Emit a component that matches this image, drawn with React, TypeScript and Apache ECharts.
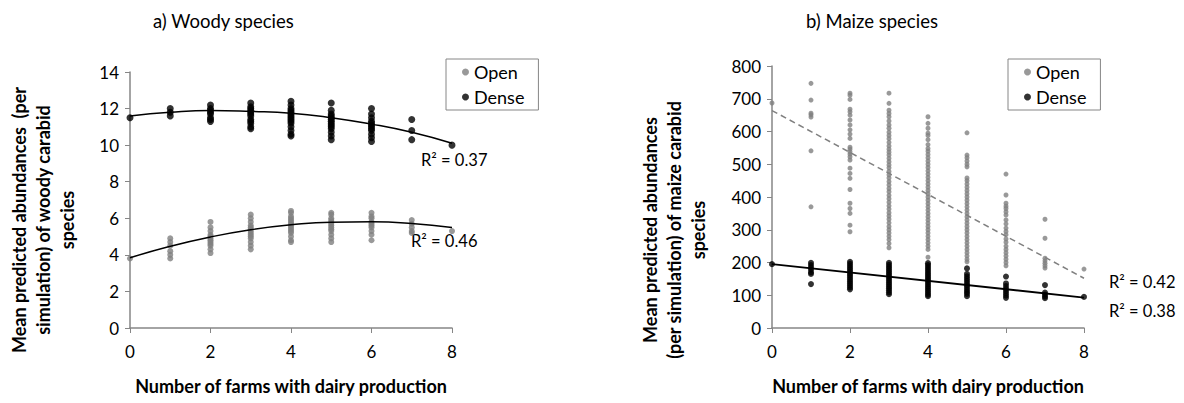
import React, { useEffect, useRef } from "react";
import * as echarts from "echarts";

// x positions: number of farms with dairy production (0..8)
const farms = [0, 1, 2, 3, 4, 5, 6, 7, 8];

// a) Woody species — Dense (black)
const woodyDense: number[][] = [
  [11.5],
  [12.0, 11.8, 11.6],
  [12.2, 12.0, 11.9, 11.8, 11.7, 11.5, 11.4, 11.3],
  [12.3, 12.1, 12.0, 11.9, 11.8, 11.7, 11.6, 11.4, 11.3, 11.2, 11.0, 10.9],
  [12.4, 12.2, 12.0, 11.9, 11.8, 11.7, 11.6, 11.5, 11.4, 11.3, 11.2, 11.0, 10.8, 10.6, 10.5],
  [12.3, 11.9, 11.7, 11.6, 11.5, 11.4, 11.3, 11.2, 11.1, 11.0, 10.9, 10.7, 10.5, 10.3],
  [12.0, 11.7, 11.5, 11.3, 11.2, 11.1, 11.0, 10.9, 10.8, 10.6, 10.4, 10.2],
  [11.4, 10.8, 10.3],
  [10.0],
];
// a) Woody species — Open (grey)
const woodyOpen: number[][] = [
  [3.8],
  [4.9, 4.7, 4.5, 4.2, 4.0, 3.8],
  [5.8, 5.5, 5.3, 5.1, 5.0, 4.9, 4.8, 4.7, 4.6, 4.5, 4.3, 4.1],
  [6.2, 6.0, 5.8, 5.6, 5.5, 5.4, 5.3, 5.2, 5.1, 5.0, 4.9, 4.7, 4.5, 4.3],
  [6.4, 6.3, 6.1, 6.0, 5.9, 5.8, 5.7, 5.6, 5.5, 5.4, 5.3, 5.2, 5.0, 4.8, 4.7],
  [6.3, 6.2, 6.0, 5.9, 5.8, 5.7, 5.6, 5.5, 5.4, 5.3, 5.1, 4.9, 4.7],
  [6.3, 6.1, 6.0, 5.8, 5.7, 5.6, 5.5, 5.3, 5.1, 4.8],
  [5.9, 5.7, 5.5, 5.3, 5.2],
  [5.3],
];
// fitted curves
const woodyDenseTrend = [11.6, 11.8, 11.9, 11.85, 11.75, 11.5, 11.15, 10.7, 10.1];
const woodyOpenTrend = [3.84, 4.47, 4.98, 5.37, 5.64, 5.79, 5.81, 5.72, 5.5];

// b) Maize species — Open (grey)
const maizeOpen: number[][] = [
  [687],
  [747, 696, 656, 651, 644, 541, 370],
  [717, 711, 698, 668, 660, 650, 635, 620, 605, 592, 579, 552, 546, 538, 531, 523, 513, 488, 472, 457, 423, 381, 365, 350, 314, 294],
  [717, 686, 665, 655, 645, 632, 620, 610, 598, 588, 578, 567, 556, 546, 537, 528, 518, 508, 498, 489, 478, 468, 458, 447, 437, 426, 416, 405, 395, 384, 373, 363, 352, 342, 332, 321, 310, 300, 290, 280, 270, 258, 245],
  [645, 625, 610, 595, 588, 575, 560, 548, 540, 530, 520, 510, 500, 490, 480, 470, 460, 450, 440, 430, 420, 410, 400, 390, 380, 370, 360, 350, 340, 330, 320, 310, 300, 290, 280, 270, 260, 250, 240, 216],
  [596, 528, 520, 510, 500, 492, 458, 450, 440, 430, 420, 410, 400, 390, 380, 370, 360, 350, 340, 330, 320, 310, 300, 290, 280, 270, 260, 250, 240, 230, 220, 210, 202],
  [470, 406, 381, 372, 365, 355, 345, 330, 318, 305, 295, 285, 272, 262, 250, 240, 230, 220, 210, 200, 190],
  [332, 274, 213, 205, 198, 190, 183],
  [180],
];
// b) Maize species — Dense (black)
const maizeDense: number[][] = [
  [195],
  [199, 192, 185, 178, 170, 165, 134],
  [202, 196, 190, 184, 178, 172, 166, 160, 154, 148, 142, 136, 130, 124, 118],
  [199, 193, 187, 181, 175, 169, 163, 157, 151, 145, 139, 133, 127, 121, 115, 109, 103],
  [198, 192, 186, 180, 174, 168, 162, 156, 150, 144, 138, 132, 126, 120, 114, 108, 102, 97],
  [182, 165, 158, 151, 144, 137, 130, 123, 116, 110, 104, 97],
  [157, 136, 128, 120, 113, 106, 99, 92],
  [131, 108, 102, 96, 91],
  [95],
];
// linear fits (endpoints)
const maizeOpenTrend = [[0, 664], [8, 152]];
const maizeDenseTrend = [[0, 195], [8, 93]];

const r2Labels = ["R² = 0.37", "R² = 0.46", "R² = 0.42", "R² = 0.38"];

const FONT = 'Lato, "Open Sans", sans-serif';
const GREY = "#808080";
const AXIS = "#868686";

const toPoints = (groups: number[][]) =>
  groups.flatMap((vals, i) => vals.map((v) => [farms[i], v]));

export default function App() {
  const ref = useRef<HTMLDivElement>(null);
  useEffect(() => {
    if (!ref.current) return;
    const chart = echarts.init(ref.current, null, { renderer: "svg" });
    const xAxisBase = (gridIndex: number) => ({
      type: "value",
      gridIndex,
      min: 0,
      max: 8,
      interval: 2,
      name: "Number of farms with dairy production",
      nameLocation: "middle",
      nameGap: 49,
      nameTextStyle: { fontFamily: FONT, fontSize: 18, fontWeight: "bold", color: "#000" },
      axisLine: { lineStyle: { color: AXIS, width: 1.5 } },
      axisTick: { show: true, length: 5, lineStyle: { color: AXIS, width: 1 } },
      axisLabel: { fontFamily: FONT, fontSize: 17, color: "#000", margin: 15 },
      splitLine: { show: false },
    });
    const yAxisBase = (gridIndex: number, max: number, interval: number) => ({
      type: "value",
      gridIndex,
      min: 0,
      max,
      interval,
      axisLine: { show: true, lineStyle: { color: AXIS, width: 1.5 } },
      axisTick: { show: true, length: 5, lineStyle: { color: AXIS, width: 1 } },
      axisLabel: { fontFamily: FONT, fontSize: 17, color: "#000", margin: 11 },
      splitLine: { show: false },
    });
    const legendBase = (left: number) => ({
      left,
      top: 59,
      orient: "vertical",
      selectedMode: false,
      data: ["Open", "Dense"],
      icon: "circle",
      itemWidth: 7,
      itemHeight: 7,
      itemGap: 7,
      padding: [4, 14, 4, 16],
      borderColor: AXIS,
      borderWidth: 1,
      textStyle: { fontFamily: FONT, fontSize: 18, color: "#000" },
    });
    const text = (x: number, y: number, t: string, extra: any = {}) => ({
      type: "text",
      x,
      y,
      style: {
        text: t,
        fontFamily: FONT,
        fontSize: 16.5,
        fill: "#000",
        align: "left",
        verticalAlign: "middle",
        ...extra,
      },
    });
    const rotTitle = (x: number, y: number, t: string) => ({
      type: "text",
      x,
      y,
      rotation: Math.PI / 2,
      style: {
        text: t,
        fontFamily: FONT,
        fontSize: 18,
        fontWeight: "bold",
        fill: "#000",
        align: "center",
        verticalAlign: "middle",
        lineHeight: 24,
      },
    });
    chart.setOption({
      animation: false,
      backgroundColor: "#fff",
      grid: [
        { left: 130, top: 72, width: 322, height: 256 },
        { left: 772, top: 66, width: 312, height: 262 },
      ],
      xAxis: [xAxisBase(0), xAxisBase(1)],
      yAxis: [yAxisBase(0, 14, 2), yAxisBase(1, 800, 100)],
      legend: [legendBase(446), legendBase(1008)],
      series: [
        {
          name: "Open",
          type: "scatter",
          xAxisIndex: 0,
          yAxisIndex: 0,
          symbolSize: 6,
          itemStyle: { color: GREY },
          data: toPoints(woodyOpen),
        },
        {
          name: "Dense",
          type: "scatter",
          xAxisIndex: 0,
          yAxisIndex: 0,
          symbolSize: 7,
          itemStyle: { color: "#000" },
          data: toPoints(woodyDense),
        },
        {
          name: "trendWoodyDense",
          type: "line",
          xAxisIndex: 0,
          yAxisIndex: 0,
          smooth: true,
          showSymbol: false,
          lineStyle: { color: "#000", width: 1.5 },
          data: farms.map((f, i) => [f, woodyDenseTrend[i]]),
          z: 5,
        },
        {
          name: "trendWoodyOpen",
          type: "line",
          xAxisIndex: 0,
          yAxisIndex: 0,
          smooth: true,
          showSymbol: false,
          lineStyle: { color: "#000", width: 1.5 },
          data: farms.map((f, i) => [f, woodyOpenTrend[i]]),
          z: 5,
        },
        {
          name: "Open",
          type: "scatter",
          xAxisIndex: 1,
          yAxisIndex: 1,
          symbolSize: 5,
          itemStyle: { color: GREY },
          data: toPoints(maizeOpen),
        },
        {
          name: "Dense",
          type: "scatter",
          xAxisIndex: 1,
          yAxisIndex: 1,
          symbolSize: 6,
          itemStyle: { color: "#000" },
          data: toPoints(maizeDense),
        },
        {
          name: "trendMaizeOpen",
          type: "line",
          xAxisIndex: 1,
          yAxisIndex: 1,
          showSymbol: false,
          lineStyle: { color: GREY, width: 1.5, type: [6, 4] },
          data: maizeOpenTrend,
          z: 5,
        },
        {
          name: "trendMaizeDense",
          type: "line",
          xAxisIndex: 1,
          yAxisIndex: 1,
          showSymbol: false,
          lineStyle: { color: "#000", width: 1.8 },
          data: maizeDenseTrend,
          z: 5,
        },
      ],
      graphic: [
        text(153, 21, "a) Woody species", { fontSize: 18.5 }),
        text(806, 21, "b) Maize species", { fontSize: 18.5 }),
        rotTitle(43, 220, "Mean predicted abundances  (per\nsimulation) of woody carabid\nspecies"),
        rotTitle(674, 230, "Mean predicted abundances\n(per simulation) of maize carabid\nspecies"),
        text(421, 160, r2Labels[0]),
        text(411, 241, r2Labels[1]),
        text(1109, 282, r2Labels[2]),
        text(1109, 311, r2Labels[3]),
      ],
    });
    return () => chart.dispose();
  }, []);
  return (
    <div
      ref={ref}
      style={{ position: "fixed", left: 0, top: 0, width: 1184, height: 403, background: "#fff" }}
    />
  );
}
